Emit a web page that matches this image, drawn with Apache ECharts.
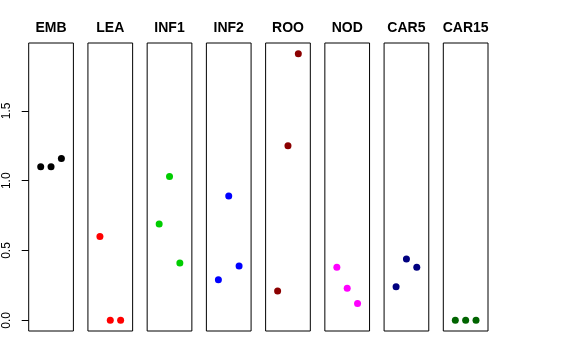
<!DOCTYPE html>
<html>
<head>
<meta charset="utf-8">
<script src="https://cdn.jsdelivr.net/npm/echarts@6/dist/echarts.min.js"></script>
<style>html,body{margin:0;padding:0;background:#fff}#c{width:576px;height:360px}</style>
</head>
<body>
<div id="c"></div>
<script>
var panels = ['EMB','LEA','INF1','INF2','ROO','NOD','CAR5','CAR15'];
var colors = ['#000000','#FF0000','#00CD00','#0000FF','#8B0000','#FF00FF','#000080','#006400'];
var xPositions = [1, 2, 3];
var EMB   = [1.10, 1.10, 1.16];
var LEA   = [0.60, 0.00, 0.00];
var INF1  = [0.69, 1.03, 0.41];
var INF2  = [0.29, 0.89, 0.39];
var ROO   = [0.21, 1.25, 1.91];
var NOD   = [0.38, 0.23, 0.12];
var CAR5  = [0.24, 0.44, 0.38];
var CAR15 = [0.00, 0.00, 0.00];
var values = [EMB, LEA, INF1, INF2, ROO, NOD, CAR5, CAR15];
var yTicks = [0, 0.5, 1.0, 1.5];

(function () {
  var yMin = -0.0764, yMax = 1.9864;
  var xMin = -0.16, xMax = 4.16;
  var left0 = 28.7, step = 59.23, w = 44.7, gTop = 43, h = 288;
  var font = 'Liberation Sans, Arial, Helvetica, sans-serif';

  var grids = [], xAxes = [], yAxes = [], series = [], titles = [];
  panels.forEach(function (p, i) {
    var L = left0 + step * i;
    grids.push({left: L, top: gTop, width: w, height: h, show: true, borderColor: '#000', borderWidth: 1});
    xAxes.push({type: 'value', gridIndex: i, min: xMin, max: xMax, show: false});
    yAxes.push({type: 'value', gridIndex: i, min: yMin, max: yMax, show: false});
    series.push({
      type: 'scatter', xAxisIndex: i, yAxisIndex: i, symbol: 'circle', symbolSize: 7,
      itemStyle: {color: colors[i], opacity: 1}, silent: true,
      data: xPositions.map(function (x, k) { return [x, values[i][k]]; })
    });
    titles.push({text: p, left: L + w / 2, top: 21, textAlign: 'center', padding: 0,
      textStyle: {fontSize: 14, fontWeight: 'bold', color: '#000', fontFamily: font}});
  });

  var tMin = yTicks[0], tMax = yTicks[yTicks.length - 1];
  var pxPerUnit = h / (yMax - yMin);
  var axTop = gTop + (yMax - tMax) * pxPerUnit;
  var axH = (tMax - tMin) * pxPerUnit;
  var ai = panels.length;
  grids.push({left: left0, top: axTop, width: 1, height: axH, show: false});
  xAxes.push({type: 'value', gridIndex: ai, min: 0, max: 1, show: false});
  yAxes.push({
    type: 'value', gridIndex: ai, min: tMin, max: tMax, interval: yTicks[1] - yTicks[0],
    splitLine: {show: false},
    axisLine: {show: false},
    axisTick: {show: true, length: 7, lineStyle: {color: '#000', width: 1}},
    axisLabel: {show: true, rotate: 90, margin: 16, color: '#000', fontSize: 12, fontFamily: font,
      formatter: function (v) { return Number(v).toFixed(1); }}
  });

  var chart = echarts.init(document.getElementById('c'), null, {renderer: 'canvas'});
  chart.setOption({
    animation: false,
    title: titles,
    grid: grids,
    xAxis: xAxes,
    yAxis: yAxes,
    series: series
  });
})();
</script>
</body>
</html>
